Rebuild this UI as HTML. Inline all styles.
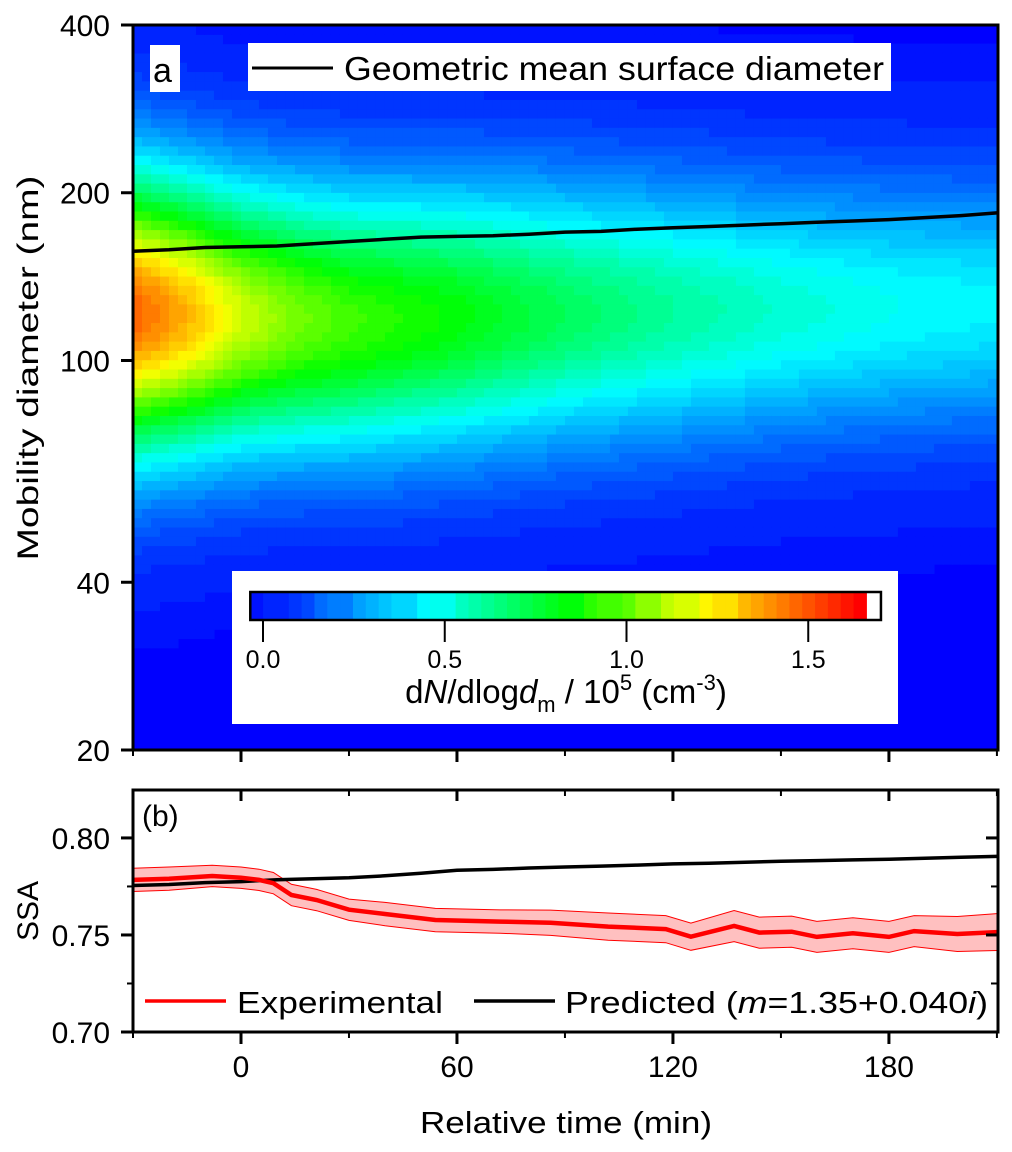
<!DOCTYPE html>
<html><head><meta charset="utf-8">
<style>
html,body{margin:0;padding:0;background:#fff;}
svg{display:block;font-family:"Liberation Sans",Arial,sans-serif;}
</style></head>
<body>
<svg id="fig" width="1012" height="1152" viewBox="0 0 1012 1152" xmlns="http://www.w3.org/2000/svg">
  <g id="heat"></g>
  <g id="gmsd"></g>
  <g id="axesA"></g>
  <rect x="150" y="45" width="30" height="47" fill="#fff"/>
  <text x="153" y="82" font-size="34">a</text>
  <g>
    <rect x="248" y="43" width="643" height="48" fill="#fff"/>
    <line x1="252" y1="68" x2="333" y2="68" stroke="#000" stroke-width="3"/>
    <text x="344" y="80" font-size="33" textLength="540" lengthAdjust="spacingAndGlyphs">Geometric mean surface diameter</text>
  </g>
  <g id="cbar">
    <rect x="232" y="571" width="666" height="153" fill="#fff"/>
  </g>
  <g id="panelB"></g>
  <text transform="translate(38,368) rotate(-90)" text-anchor="middle" font-size="30" textLength="385" lengthAdjust="spacingAndGlyphs">Mobility diameter (nm)</text>
  <text transform="translate(38,911) rotate(-90)" text-anchor="middle" font-size="30">SSA</text>
  <text x="566" y="1133" text-anchor="middle" font-size="31" textLength="292" lengthAdjust="spacingAndGlyphs">Relative time (min)</text>
</svg>
<script>
// ---- data: panel a heatmap parameters ----
const distTimes = [-30, -15, 0, 15, 30, 60, 90, 120, 150, 180, 210];
const distPeakConc = [1.5, 1.35, 1.15, 1.03, 0.95, 0.85, 0.72, 0.62, 0.54, 0.48, 0.45];
const distPeakDiam = [122, 121, 120, 119, 118, 120, 122, 123, 124, 125, 126];
const distSigma = [0.18, 0.175, 0.17, 0.17, 0.17, 0.17, 0.168, 0.165, 0.16, 0.158, 0.155];
// ---- data: geometric mean surface diameter ----
const gmsdTimes = [-30,-20,-10,0,10,20,30,40,50,60,70,80,90,100,110,120,130,140,150,160,170,180,190,200,210];
const gmsdDiam = [157,158,159.5,160,160.5,162,163.5,165,166.5,167,167.5,168.5,170,170.5,172,173,174,175,176,177,178,179,180.5,182,184];
// ---- data: panel b SSA ----
const predTimes = [-30,-20,-10,0,10,20,30,40,50,60,70,80,90,100,110,120,130,140,150,160,170,180,190,200,210];
const predSSA = [0.7755,0.776,0.777,0.7775,0.7785,0.779,0.7795,0.7805,0.7818,0.7833,0.7838,0.7845,0.785,0.7855,0.786,0.7866,0.787,0.7875,0.788,0.7883,0.7887,0.789,0.7895,0.79,0.7905];
const expTimes = [-30,-20,-8,0,5,9,14,21,30,40,54,72,86,102,118,125,137,144,153,160,170,180,187,199,210];
const expSSA = [0.7784,0.779,0.7804,0.7795,0.7784,0.7767,0.7706,0.768,0.763,0.7608,0.7577,0.7569,0.7563,0.7543,0.753,0.7491,0.7546,0.7512,0.7517,0.749,0.7509,0.749,0.752,0.7505,0.7515];
const expErr = [0.006,0.006,0.0055,0.0055,0.0055,0.0055,0.0055,0.0055,0.0055,0.006,0.006,0.006,0.0065,0.007,0.007,0.007,0.008,0.008,0.008,0.008,0.008,0.008,0.008,0.009,0.0095];
// ---- tick labels ----
const xTicks = [0, 60, 120, 180];
const xMinor = [-30, 30, 90, 150, 210];
const yTicksA = [20, 40, 100, 200, 400];
const yTicksB = [0.70, 0.75, 0.80];
const yMinorB = [0.725, 0.775];
const cbTicks = [0.0, 0.5, 1.0, 1.5];

const NS = "http://www.w3.org/2000/svg";
function mk(tag, attrs, parent){const e=document.createElementNS(NS,tag);for(const k in attrs)e.setAttribute(k,attrs[k]);parent.appendChild(e);return e;}

const X0=133, X1=998, T0=-30, T1=210.3;
const xs = t => X0 + (t - T0) * (X1 - X0) / (T1 - T0);
const YA0=25, YA1=750;
const ysA = d => YA0 + (Math.log10(400) - Math.log10(d)) * (YA1 - YA0) / (Math.log10(400) - Math.log10(20));
const YB0=790, YB1=1032;
const ysB = v => YB1 - (v - 0.70) * (YB1 - YB0) / (0.8247 - 0.70);

function interp(xa, ya, x){
  if (x <= xa[0]) return ya[0];
  for (let i=1;i<xa.length;i++){ if (x <= xa[i]) { const f=(x-xa[i-1])/(xa[i]-xa[i-1]); return ya[i-1]+f*(ya[i]-ya[i-1]); } }
  return ya[ya.length-1];
}
const cStops = [[-0.035,[0,0,255]],[0.47,[0,255,255]],[0.86,[0,255,0]],[1.22,[255,255,0]],[1.66,[255,0,0]]];
function cmap(v){
  const lo=-0.035, hi=1.66, n=48;
  let q = Math.round((v-lo)/(hi-lo)*n)/n*(hi-lo)+lo;
  if (q<=cStops[0][0]) return "rgb(0,0,255)";
  for (let i=1;i<cStops.length;i++){
    if (q<=cStops[i][0]){ const f=(q-cStops[i-1][0])/(cStops[i][0]-cStops[i-1][0]); const a=cStops[i-1][1], b=cStops[i][1];
      return `rgb(${Math.round(a[0]+f*(b[0]-a[0]))},${Math.round(a[1]+f*(b[1]-a[1]))},${Math.round(a[2]+f*(b[2]-a[2]))})`; }
  }
  return "rgb(255,0,0)";
}

const heat = document.getElementById("heat");
mk("rect",{x:X0,y:YA0,width:X1-X0,height:YA1-YA0,fill:"rgb(0,0,255)"},heat);
const dt = 2.5, nb = 78, lstep = (Math.log10(400)-Math.log10(20))/nb;
for (let t=T0; t<T1; t+=dt){
  const tc = t + dt/2;
  const pc = interp(distTimes, distPeakConc, tc), pd = interp(distTimes, distPeakDiam, tc), sg = interp(distTimes, distSigma, tc);
  for (let j=0;j<nb;j++){
    const l0 = Math.log10(20)+j*lstep, lc = l0+lstep/2;
    const v = pc*Math.exp(-Math.pow(lc-Math.log10(pd),2)/(2*sg*sg));
    if (v < 0.005) continue;
    const xa = xs(t), xb = Math.min(xs(t+dt), X1);
    const ya = ysA(Math.pow(10,l0+lstep)), yb = ysA(Math.pow(10,l0));
    const r = mk("rect",{x:xa.toFixed(2),y:ya.toFixed(2),width:(xb-xa+0.6).toFixed(2),height:(yb-ya+0.6).toFixed(2),fill:cmap(v)},heat);
    
    
  }
}

const gm = document.getElementById("gmsd");
const gp = mk("polyline",{points:gmsdTimes.map((t,i)=>xs(t).toFixed(1)+","+ysA(gmsdDiam[i]).toFixed(1)).join(" "),fill:"none",stroke:"#000","stroke-width":3.5},gm);



const ax = document.getElementById("axesA");
mk("rect",{x:X0,y:YA0,width:X1-X0,height:YA1-YA0,fill:"none",stroke:"#000","stroke-width":3},ax);
yTicksA.forEach(v=>{
  const y=ysA(v);
  mk("line",{x1:X0-12,y1:y,x2:X0,y2:y,stroke:"#000","stroke-width":3},ax);
  const tx = mk("text",{x:110,y:y+11,"text-anchor":"end","font-size":30},ax);
  tx.textContent = v;
  
  
});
xTicks.forEach(v=>{ mk("line",{x1:xs(v),y1:YA1,x2:xs(v),y2:YA1+12,stroke:"#000","stroke-width":3},ax); });
xMinor.forEach(v=>{ mk("line",{x1:xs(v),y1:YA1,x2:xs(v),y2:YA1+6,stroke:"#000","stroke-width":2},ax); });

const cb = document.getElementById("cbar");
const cbX = v => 263 + v*363.5;
const cbL=-0.035, cbH=1.66, nSeg=48;
for (let i=0;i<nSeg;i++){
  const v0=cbL+i*(cbH-cbL)/nSeg, v1=cbL+(i+1)*(cbH-cbL)/nSeg;
  const r = mk("rect",{x:cbX(v0).toFixed(2),y:592,width:(cbX(v1)-cbX(v0)+0.5).toFixed(2),height:28,fill:cmap((v0+v1)/2)},cb);
  
  
}
mk("rect",{x:cbX(cbL),y:592,width:cbX(1.7)-cbX(cbL),height:28,fill:"none",stroke:"#000","stroke-width":2.5},cb);
cbTicks.forEach(v=>{
  mk("line",{x1:cbX(v),y1:620,x2:cbX(v),y2:642,stroke:"#000","stroke-width":2},cb);
  const tx = mk("text",{x:cbX(v),y:668,"text-anchor":"middle","font-size":25},cb);
  tx.textContent = v.toFixed(1);
  
  
});
const ct = mk("text",{x:566,y:703,"text-anchor":"middle","font-size":33},cb);


ct.innerHTML = 'd<tspan font-style="italic">N</tspan>/dlog<tspan font-style="italic">d</tspan><tspan font-size="22" dy="9">m</tspan><tspan dy="-9"> / 10</tspan><tspan font-size="22" dy="-13">5</tspan><tspan dy="13"> (cm</tspan><tspan font-size="22" dy="-13">-3</tspan><tspan dy="13">)</tspan>';

const pb = document.getElementById("panelB");
const upper = expTimes.map((t,i)=>xs(t).toFixed(1)+","+ysB(expSSA[i]+expErr[i]).toFixed(1));
const lower = expTimes.map((t,i)=>xs(t).toFixed(1)+","+ysB(expSSA[i]-expErr[i]).toFixed(1)).reverse();
const band = mk("polygon",{points:upper.concat(lower).join(" "),fill:"#ffc0c0",stroke:"none"},pb);


const ub = mk("polyline",{points:upper.join(" "),fill:"none",stroke:"#ff0000","stroke-width":1},pb);


const lb = mk("polyline",{points:lower.join(" "),fill:"none",stroke:"#ff0000","stroke-width":1},pb);


const pl = mk("polyline",{points:predTimes.map((t,i)=>xs(t).toFixed(1)+","+ysB(predSSA[i]).toFixed(1)).join(" "),fill:"none",stroke:"#000","stroke-width":3.5},pb);


const el = mk("polyline",{points:expTimes.map((t,i)=>xs(t).toFixed(1)+","+ysB(expSSA[i]).toFixed(1)).join(" "),fill:"none",stroke:"#ff0000","stroke-width":4.5},pb);


mk("rect",{x:X0,y:YB0,width:X1-X0,height:YB1-YB0,fill:"none",stroke:"#000","stroke-width":3},pb);
yTicksB.forEach(v=>{
  const y=ysB(v);
  mk("line",{x1:X0-12,y1:y,x2:X0,y2:y,stroke:"#000","stroke-width":3},pb);
  mk("line",{x1:X1-12,y1:y,x2:X1,y2:y,stroke:"#000","stroke-width":3},pb);
  const tx = mk("text",{x:110,y:y+11,"text-anchor":"end","font-size":30},pb);
  tx.textContent = v.toFixed(2);
  
  
});
yMinorB.forEach(v=>{
  const y=ysB(v);
  mk("line",{x1:X0-6,y1:y,x2:X0,y2:y,stroke:"#000","stroke-width":2},pb);
  mk("line",{x1:X1-7,y1:y,x2:X1,y2:y,stroke:"#000","stroke-width":2},pb);
});
xTicks.forEach(v=>{
  mk("line",{x1:xs(v),y1:YB1,x2:xs(v),y2:YB1+12,stroke:"#000","stroke-width":3},pb);
  mk("line",{x1:xs(v),y1:YB0,x2:xs(v),y2:YB0+11,stroke:"#000","stroke-width":3},pb);
  const tx = mk("text",{x:xs(v),y:1077,"text-anchor":"middle","font-size":30},pb);
  tx.textContent = v;
  
  
});
xMinor.forEach(v=>{
  mk("line",{x1:xs(v),y1:YB1,x2:xs(v),y2:YB1+6,stroke:"#000","stroke-width":2},pb);
  mk("line",{x1:xs(v),y1:YB0,x2:xs(v),y2:YB0+6,stroke:"#000","stroke-width":2},pb);
});
const bl = mk("text",{x:142,y:826,"font-size":30},pb);
bl.textContent = "(b)";


const l1 = mk("line",{x1:145,y1:1001,x2:226,y2:1001,stroke:"#ff0000","stroke-width":3.5},pb);


const t1 = mk("text",{x:237,y:1013,"font-size":31,textLength:206,lengthAdjust:"spacingAndGlyphs"},pb);
t1.textContent = "Experimental";


const l2 = mk("line",{x1:474,y1:1001,x2:555,y2:1001,stroke:"#000","stroke-width":3.5},pb);


const t2 = mk("text",{x:565,y:1013,"font-size":31,textLength:423,lengthAdjust:"spacingAndGlyphs"},pb);
t2.innerHTML = 'Predicted (<tspan font-style="italic">m</tspan>=1.35+0.040<tspan font-style="italic">i</tspan>)';


</script>
</body></html>
